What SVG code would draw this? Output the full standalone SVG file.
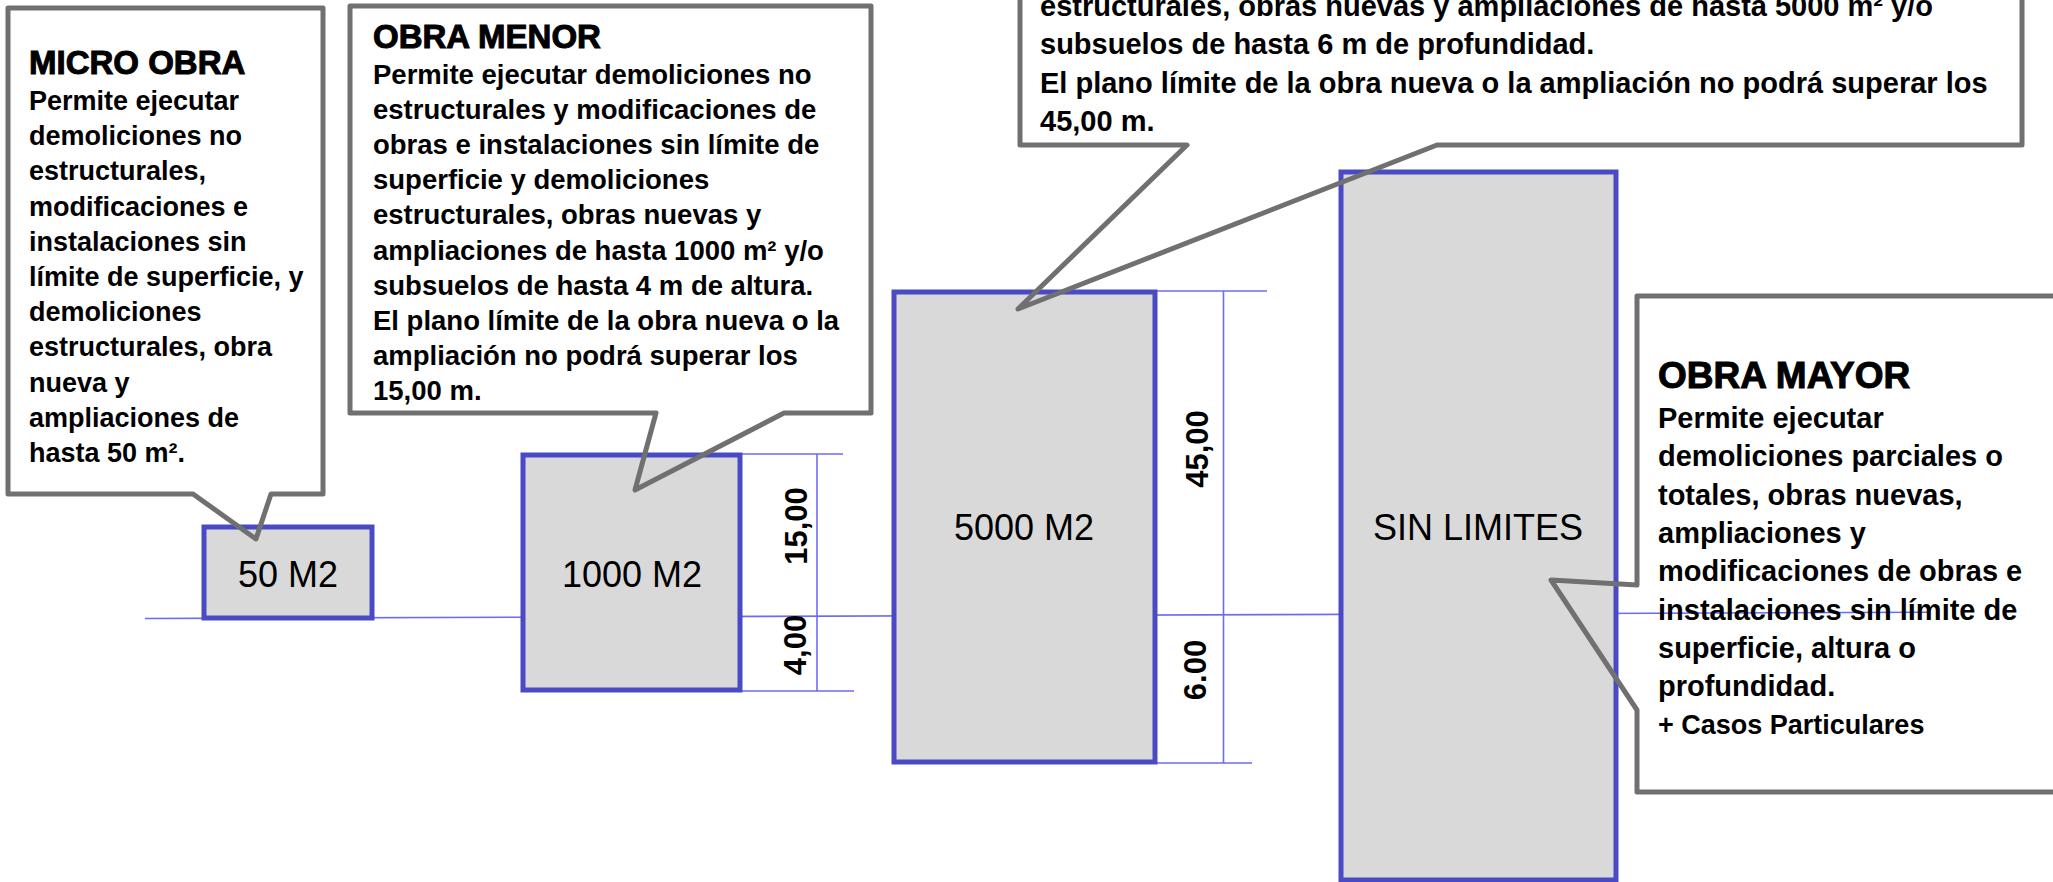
<svg xmlns="http://www.w3.org/2000/svg" width="2053" height="882" viewBox="0 0 2053 882">
<style>
.bg{fill:#ffffff}
.box{fill:#d9d9d9;stroke:#4a4ac4;stroke-width:5}
.boxlabel{font-family:"Liberation Sans",Arial,sans-serif;font-size:36px;fill:#000;text-anchor:middle}
.dim{stroke:#6b6bf5;stroke-width:1.6;fill:none}
.dimtxt{font-family:"Liberation Sans",Arial,sans-serif;font-size:31px;font-weight:bold;fill:#000;text-anchor:middle}
.callout{fill:none;stroke:#707070;stroke-width:5;stroke-linejoin:round}
.title{font-family:"Liberation Sans",Arial,sans-serif;font-weight:bold;fill:#000;stroke:#000;stroke-width:1}
.body{font-family:"Liberation Sans",Arial,sans-serif;font-weight:bold;fill:#000}
</style>
<rect class="bg" x="0" y="0" width="2053" height="882"/>

<g id="connectors">
  <line class="dim" x1="145" y1="618.5" x2="1927" y2="612.3"/>
  <line class="dim" x1="741" y1="454" x2="843" y2="454"/>
  <line class="dim" x1="817" y1="454" x2="817" y2="691"/>
  <line class="dim" x1="725" y1="691" x2="854" y2="691"/>
  <line class="dim" x1="1155" y1="291" x2="1267" y2="291"/>
  <line class="dim" x1="1223.5" y1="291" x2="1223.5" y2="763"/>
  <line class="dim" x1="1155" y1="763" x2="1252" y2="763"/>
</g>

<g id="dim-labels">
  <text class="dimtxt" transform="translate(807,526) rotate(-90)">15,00</text>
  <text class="dimtxt" transform="translate(806,645) rotate(-90)">4,00</text>
  <text class="dimtxt" transform="translate(1208,449) rotate(-90)">45,00</text>
  <text class="dimtxt" transform="translate(1206,670) rotate(-90)">6.00</text>
</g>

<g id="box-50">
  <rect class="box" x="204" y="527" width="168" height="91"/>
  <text class="boxlabel" x="288" y="587">50 M2</text>
</g>
<g id="box-1000">
  <rect class="box" x="523" y="455" width="217" height="235"/>
  <text class="boxlabel" x="632" y="587">1000 M2</text>
</g>
<g id="box-5000">
  <rect class="box" x="894" y="292" width="261" height="470"/>
  <text class="boxlabel" x="1024" y="540">5000 M2</text>
</g>
<g id="box-sin-limites">
  <rect class="box" x="1341" y="172" width="275" height="708"/>
  <text class="boxlabel" x="1478" y="540">SIN LIMITES</text>
</g>

<g id="callout-micro">
  <path class="callout" d="M8,8 H323 V494 H271 L256,539 L193,494 H8 Z"/>
  <text class="title" x="29" y="74" font-size="33">MICRO OBRA</text>
  <text class="body" font-size="27">
    <tspan x="29" y="110">Permite ejecutar</tspan>
    <tspan x="29" y="145.2">demoliciones no</tspan>
    <tspan x="29" y="180.4">estructurales,</tspan>
    <tspan x="29" y="215.6">modificaciones e</tspan>
    <tspan x="29" y="250.8">instalaciones sin</tspan>
    <tspan x="29" y="286">límite de superficie, y</tspan>
    <tspan x="29" y="321.2">demoliciones</tspan>
    <tspan x="29" y="356.4">estructurales, obra</tspan>
    <tspan x="29" y="391.6">nueva y</tspan>
    <tspan x="29" y="426.8">ampliaciones de</tspan>
    <tspan x="29" y="462">hasta 50 m².</tspan>
  </text>
</g>

<g id="callout-menor">
  <path class="callout" d="M350,6 H871 V413 H784 L635,490 L656,413 H350 Z"/>
  <text class="title" x="373" y="48" font-size="33">OBRA MENOR</text>
  <text class="body" font-size="27.5">
    <tspan x="373" y="84">Permite ejecutar demoliciones no</tspan>
    <tspan x="373" y="119.1">estructurales y modificaciones de</tspan>
    <tspan x="373" y="154.2">obras e instalaciones sin límite de</tspan>
    <tspan x="373" y="189.3">superficie y demoliciones</tspan>
    <tspan x="373" y="224.4">estructurales, obras nuevas y</tspan>
    <tspan x="373" y="259.5">ampliaciones de hasta 1000 m² y/o</tspan>
    <tspan x="373" y="294.6">subsuelos de hasta 4 m de altura.</tspan>
    <tspan x="373" y="329.7">El plano límite de la obra nueva o la</tspan>
    <tspan x="373" y="364.8">ampliación no podrá superar los</tspan>
    <tspan x="373" y="400">15,00 m.</tspan>
  </text>
</g>

<g id="callout-media">
  <path class="callout" d="M1020,-10 H2022 V145 H1437 L1018,309 L1187,145 H1020 Z"/>
  <text class="body" font-size="29">
    <tspan x="1040" y="16">estructurales, obras nuevas y ampliaciones de hasta 5000 m² y/o</tspan>
    <tspan x="1040" y="54.3">subsuelos de hasta 6 m de profundidad.</tspan>
    <tspan x="1040" y="92.6">El plano límite de la obra nueva o la ampliación no podrá superar los</tspan>
    <tspan x="1040" y="131">45,00 m.</tspan>
  </text>
</g>

<g id="callout-mayor">
  <path class="callout" d="M1637,296 H2060 V792 H1637 V710 L1551,580 L1637,585 Z"/>
  <text class="title" x="1658" y="388" font-size="37">OBRA MAYOR</text>
  <text class="body" font-size="29">
    <tspan x="1658" y="428">Permite ejecutar</tspan>
    <tspan x="1658" y="466.3">demoliciones parciales o</tspan>
    <tspan x="1658" y="504.6">totales, obras nuevas,</tspan>
    <tspan x="1658" y="542.9">ampliaciones y</tspan>
    <tspan x="1658" y="581.2">modificaciones de obras e</tspan>
    <tspan x="1658" y="619.5">instalaciones sin límite de</tspan>
    <tspan x="1658" y="657.8">superficie, altura o</tspan>
    <tspan x="1658" y="696.1">profundidad.</tspan>
    <tspan x="1658" y="734" font-size="27">+ Casos Particulares</tspan>
  </text>
</g>
</svg>
